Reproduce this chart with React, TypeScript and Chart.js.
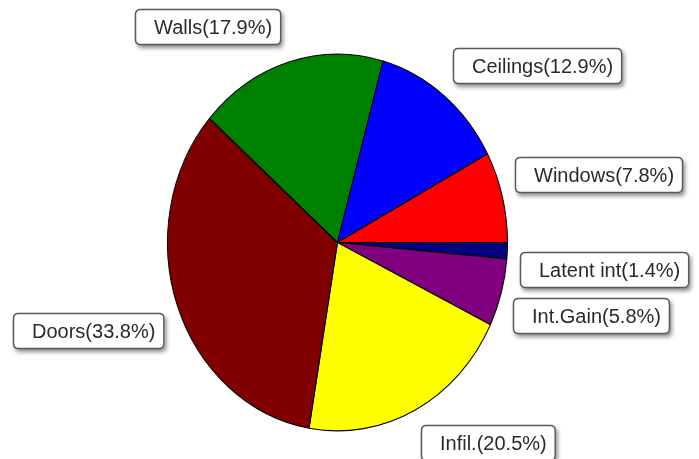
import React, { useEffect, useRef } from "react";
import { Chart, registerables } from "chart.js";

Chart.register(...registerables);

const categories = ["Latent int", "Int.Gain", "Infil.", "Doors", "Walls", "Ceilings", "Windows"];
const percents = [1.4, 5.8, 20.5, 33.8, 17.9, 12.9, 7.8];
const sliceColors = ["#000080", "#800080", "#FFFF00", "#800000", "#008000", "#0000FF", "#FF0000"];
// top-left corner of each label box (page pixels)
const labelBoxes: [number, number][] = [
  [520, 252],
  [513, 298],
  [421, 425],
  [13, 313],
  [135, 9],
  [453, 48],
  [515, 157],
];

const W = 699;
const H = 459;
const Y_SCALE = 1.108;

function roundRect(ctx: CanvasRenderingContext2D, x: number, y: number, w: number, h: number, r: number) {
  ctx.beginPath();
  ctx.moveTo(x + r, y);
  ctx.lineTo(x + w - r, y);
  ctx.quadraticCurveTo(x + w, y, x + w, y + r);
  ctx.lineTo(x + w, y + h - r);
  ctx.quadraticCurveTo(x + w, y + h, x + w - r, y + h);
  ctx.lineTo(x + r, y + h);
  ctx.quadraticCurveTo(x, y + h, x, y + h - r);
  ctx.lineTo(x, y + r);
  ctx.quadraticCurveTo(x, y, x + r, y);
  ctx.closePath();
}

const ellipsePlugin = {
  id: "ellipse",
  beforeDatasetsDraw(chart: any) {
    const arc = chart.getDatasetMeta(0).data[0];
    if (!arc) return;
    const ctx = chart.ctx;
    ctx.save();
    ctx.translate(arc.x, arc.y);
    ctx.scale(1, Y_SCALE);
    ctx.translate(-arc.x, -arc.y);
  },
  afterDatasetsDraw(chart: any) {
    chart.ctx.restore();
  },
};

const labelPlugin = {
  id: "boxLabels",
  afterDraw(chart: any) {
    const ctx: CanvasRenderingContext2D = chart.ctx;
    ctx.save();
    ctx.font = '20px "Liberation Sans", Arial, sans-serif';
    ctx.textBaseline = "middle";
    ctx.textAlign = "left";
    categories.forEach((c, i) => {
      const text = `${c}(${percents[i]}%)`;
      const tw = ctx.measureText(text).width;
      const [bx, by] = labelBoxes[i];
      const bw = tw + 28;
      const bh = 36;
      ctx.save();
      ctx.shadowColor = "rgba(0,0,0,0.45)";
      ctx.shadowBlur = 4;
      ctx.shadowOffsetX = 2;
      ctx.shadowOffsetY = 3;
      roundRect(ctx, bx, by, bw, bh, 5);
      ctx.fillStyle = "#ffffff";
      ctx.fill();
      ctx.restore();
      roundRect(ctx, bx + 0.5, by + 0.5, bw - 1, bh - 1, 5);
      ctx.strokeStyle = "#5a5a5a";
      ctx.lineWidth = 1.5;
      ctx.stroke();
      ctx.fillStyle = "#2a2a2a";
      ctx.fillText(text, bx + 19, by + bh / 2 + 1);
    });
    ctx.restore();
  },
};

export default function App() {
  const ref = useRef<HTMLCanvasElement | null>(null);
  useEffect(() => {
    document.body.style.margin = "0";
    const canvas = ref.current;
    if (!canvas) return;
    const chart = new Chart(canvas, {
      type: "pie",
      data: {
        labels: categories,
        datasets: [
          {
            data: percents,
            backgroundColor: sliceColors,
            borderColor: "#000000",
            borderWidth: 1,
          },
        ],
      },
      options: {
        responsive: false,
        animation: false,
        rotation: 90,
        layout: { padding: { left: 167, right: 191, top: 72, bottom: 46 } },
        plugins: {
          legend: { display: false },
          tooltip: { enabled: false },
        },
      },
      plugins: [ellipsePlugin, labelPlugin],
    });
    return () => chart.destroy();
  }, []);
  return (
    <div style={{ width: W, height: H, background: "#fff" }}>
      <canvas ref={ref} width={W} height={H} style={{ display: "block", width: W, height: H }} />
    </div>
  );
}
